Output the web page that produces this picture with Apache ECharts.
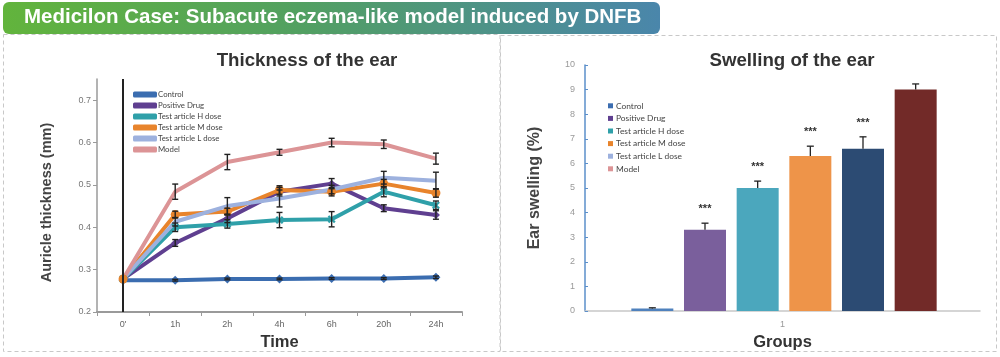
<!DOCTYPE html>
<html>
<head>
<meta charset="utf-8">
<script src="https://cdn.jsdelivr.net/npm/echarts@6/dist/echarts.min.js"></script>
<style>
html,body{margin:0;padding:0;background:#fff;}
#c{width:1000px;height:357px;}
</style>
</head>
<body>
<div id="c"></div>
<script>
// ---- Left chart data: Thickness of the ear ----
const timeLabels = ["0'", "1h", "2h", "4h", "6h", "20h", "24h"];
const lineNames = ["Control", "Positive Drug", "Test article H dose", "Test article M dose", "Test article L dose", "Model"];
const controlVals  = [0.275, 0.275, 0.278, 0.278, 0.279, 0.279, 0.282];
const positiveVals = [0.278, 0.363, 0.421, 0.484, 0.503, 0.445, 0.429];
const hDoseVals    = [0.278, 0.400, 0.408, 0.417, 0.419, 0.484, 0.452];
const mDoseVals    = [0.278, 0.430, 0.437, 0.488, 0.484, 0.503, 0.481];
const lDoseVals    = [0.278, 0.413, 0.450, 0.468, 0.489, 0.517, 0.510];
const modelVals    = [0.278, 0.484, 0.554, 0.577, 0.600, 0.596, 0.562];
const controlErr   = [0, 0.002, 0.002, 0.002, 0.002, 0.002, 0.003];
const positiveErr  = [0, 0.008, 0.010, 0.010, 0.012, 0.008, 0.010];
const hDoseErr     = [0, 0.010, 0.010, 0.018, 0.018, 0.012, 0.010];
const mDoseErr     = [0, 0.008, 0.008, 0.010, 0.010, 0.010, 0.010];
const lDoseErr     = [0, 0.010, 0.020, 0.020, 0.010, 0.015, 0.020];
const modelErr     = [0, 0.018, 0.018, 0.007, 0.010, 0.010, 0.013];
const thickTicks = [0.2, 0.3, 0.4, 0.5, 0.6, 0.7];

// ---- Right chart data: Swelling of the ear ----
const groupLabel = ["1"];
const barNames = ["Control", "Positive Drug", "Test article H dose", "Test article M dose", "Test article L dose", "Model"];
const swellVals = [0.1, 3.3, 5.0, 6.3, 6.6, 9.0];
const swellErr  = [0.03, 0.27, 0.28, 0.40, 0.48, 0.23];
const swellSig  = ["", "***", "***", "***", "***", ""];
const swellTicks = [0, 1, 2, 3, 4, 5, 6, 7, 8, 9, 10];

const lineColors = ['#3b6db0', '#5f3f90', '#2fa0a9', '#e8842c', '#9db1de', '#dc9496'];
const lineSymbols = ['diamond', 'diamond',
  'path://M2,0L5,3L8,0L10,2L7,5L10,8L8,10L5,7L2,10L0,8L3,5L0,2Z', 'circle', 'none', 'none'];
const lineSymbolSizes = [9, 8, 8, 9, 0, 0];
const barColors = ['#4f81bd', '#7a5f9c', '#4ba7bd', '#ee9449', '#2c4b73', '#722a28'];

const FONT = "'Liberation Sans', Arial, sans-serif";
const LEG_FONT = "Lato, 'Liberation Sans', sans-serif";

const lineVals = [controlVals, positiveVals, hDoseVals, mDoseVals, lDoseVals, modelVals];
const lineErrs = [controlErr, positiveErr, hDoseErr, mDoseErr, lDoseErr, modelErr];

function errSym(params, api) {
  const x = api.value(0), v = api.value(1), e = api.value(2);
  if (!e) return null;
  const hi = api.coord([x, v + e]), lo = api.coord([x, v - e]);
  const w = 3, st = { stroke: '#222', lineWidth: 1.4 };
  return { type: 'group', children: [
    { type: 'line', shape: { x1: hi[0], y1: hi[1], x2: lo[0], y2: lo[1] }, style: st },
    { type: 'line', shape: { x1: hi[0] - w, y1: hi[1], x2: hi[0] + w, y2: hi[1] }, style: st },
    { type: 'line', shape: { x1: lo[0] - w, y1: lo[1], x2: lo[0] + w, y2: lo[1] }, style: st }
  ]};
}
function errUp(params, api) {
  const x = api.value(0), v = api.value(1), e = api.value(2);
  const top = api.coord([x, v + e]), base = api.coord([x, v]);
  const w = 3.5, st = { stroke: '#222', lineWidth: 1.3 };
  const sig = swellSig[params.dataIndex];
  const ch = [
    { type: 'line', shape: { x1: top[0], y1: top[1], x2: base[0], y2: base[1] }, style: st },
    { type: 'line', shape: { x1: top[0] - w, y1: top[1], x2: top[0] + w, y2: top[1] }, style: st }
  ];
  if (sig) ch.push({ type: 'text', x: top[0], y: top[1] - 14,
    style: { text: sig, fill: '#333', font: 'bold 11px ' + FONT, align: 'center', verticalAlign: 'middle' } });
  return { type: 'group', children: ch };
}

const series = [];
lineNames.forEach((n, i) => {
  const s = {
    name: n, type: 'line', xAxisIndex: 0, yAxisIndex: 0,
    data: lineVals[i], symbol: lineSymbols[i], symbolSize: lineSymbolSizes[i],
    showSymbol: lineSymbols[i] !== 'none',
    lineStyle: { color: lineColors[i], width: 4 },
    itemStyle: { color: lineColors[i] },
    z: 3
  };
  if (i === 0) {
    s.markLine = { silent: true, symbol: 'none', label: { show: false },
      lineStyle: { color: '#222', width: 2, type: 'solid' },
      data: [{ xAxis: timeLabels[0] }] };
  }
  series.push(s);
});
lineNames.forEach((n, i) => {
  series.push({
    type: 'custom', xAxisIndex: 0, yAxisIndex: 0, z: 6, silent: true,
    renderItem: errSym,
    data: lineVals[i].map((v, k) => [k, v, lineErrs[i][k]])
  });
});
barNames.forEach((n, i) => {
  series.push({
    name: n, type: 'bar', xAxisIndex: 2, yAxisIndex: 2,
    data: swellVals.map((v, k) => (k === i ? v : null)),
    barWidth: 42, barGap: '-100%',
    itemStyle: { color: barColors[i] }
  });
});
series.push({
  type: 'custom', xAxisIndex: 2, yAxisIndex: 2, z: 6, silent: true,
  renderItem: errUp,
  data: swellVals.map((v, k) => [k, v, swellErr[k]])
});

const option = {
  animation: false,
  textStyle: { fontFamily: FONT },
  graphic: [
    { type: 'rect', z: 0, shape: { x: 3.5, y: 34.5, width: 496.5, height: 317 },
      style: { fill: 'none', stroke: '#c8c8c8', lineWidth: 1, lineDash: [4, 3] } },
    { type: 'rect', z: 0, shape: { x: 500.5, y: 35.5, width: 496, height: 316 },
      style: { fill: 'none', stroke: '#c8c8c8', lineWidth: 1, lineDash: [4, 3] } },
    { type: 'rect', z: 10, shape: { x: 3, y: 2, width: 657, height: 32, r: 6 },
      style: { fill: new echarts.graphic.LinearGradient(0, 0, 1, 0, [
        { offset: 0, color: '#62b43c' }, { offset: 0.45, color: '#52a061' }, { offset: 1, color: '#4a86ab' }]) } },
    { type: 'text', z: 11, x: 24, y: 17,
      style: { text: 'Medicilon Case: Subacute eczema-like model induced by DNFB', fill: '#fff',
        font: 'bold 20.5px ' + FONT, verticalAlign: 'middle' } }
  ],
  title: [
    { text: 'Thickness of the ear', left: 302, top: 46, textAlign: 'center',
      textStyle: { fontFamily: FONT, fontSize: 18.7, fontWeight: 'bold', color: '#333' } },
    { text: 'Swelling of the ear', left: 787, top: 46, textAlign: 'center',
      textStyle: { fontFamily: FONT, fontSize: 18.7, fontWeight: 'bold', color: '#333' } }
  ],
  legend: [
    { data: lineNames, orient: 'vertical', left: 133, top: 90, padding: 0, itemWidth: 24, itemHeight: 6,
      itemGap: 2, icon: 'roundRect',
      textStyle: { fontFamily: LEG_FONT, fontSize: 7.8, color: '#444', lineHeight: 9, padding: [0, 0, 0, -4] } },
    { data: barNames, orient: 'vertical', left: 608, top: 101, padding: 0, itemWidth: 5, itemHeight: 5,
      itemGap: 3, icon: 'rect',
      textStyle: { fontFamily: LEG_FONT, fontSize: 8.4, color: '#444', lineHeight: 9.6, padding: [0, 0, 0, -2] } }
  ],
  grid: [
    { left: 97, right: 538, top: 79, bottom: 45 },
    { left: 585, right: 20, top: 65, bottom: 46 },
    { left: 626, right: 58, top: 65, bottom: 46 }
  ],
  xAxis: [
    { type: 'category', gridIndex: 0, data: timeLabels, boundaryGap: true,
      name: 'Time', nameLocation: 'middle', nameGap: 22,
      nameTextStyle: { fontFamily: FONT, fontSize: 16.5, fontWeight: 'bold', color: '#333' },
      axisLine: { lineStyle: { color: '#9a9a9a', width: 2 } },
      axisTick: { show: true, length: 4, lineStyle: { color: '#9a9a9a' } },
      axisLabel: { fontSize: 9, color: '#666', margin: 8 } },
    { type: 'category', gridIndex: 1, data: groupLabel,
      name: 'Groups', nameLocation: 'middle', nameGap: 23,
      nameTextStyle: { fontFamily: FONT, fontSize: 16.5, fontWeight: 'bold', color: '#333' },
      axisLine: { lineStyle: { color: '#c8c8c8', width: 1.5 } },
      axisTick: { show: false },
      axisLabel: { fontSize: 9, color: '#999', margin: 9 } },
    { type: 'category', gridIndex: 2, data: barNames, show: false }
  ],
  yAxis: [
    { type: 'value', gridIndex: 0, min: 0.2, max: 0.75, interval: 0.1,
      name: 'Auricle thickness (mm)', nameLocation: 'middle', nameGap: 43,
      nameTextStyle: { fontFamily: FONT, fontSize: 14.5, fontWeight: 'bold', color: '#444', padding: [0, 14, 0, 0] },
      axisLine: { show: true, lineStyle: { color: '#9a9a9a', width: 1.5 } },
      axisTick: { show: true, length: 4, customValues: thickTicks, lineStyle: { color: '#9a9a9a' } },
      axisLabel: { fontSize: 9, color: '#777', margin: 6, customValues: thickTicks,
        formatter: v => v.toFixed(1) },
      splitLine: { show: false } },
    { type: 'value', gridIndex: 1, min: 0, max: 10, interval: 1,
      name: 'Ear swelling (%)', nameLocation: 'middle', nameGap: 42,
      nameTextStyle: { fontFamily: FONT, fontSize: 16, fontWeight: 'bold', color: '#444' },
      axisLine: { show: true, lineStyle: { color: '#5b8fca', width: 1.5 } },
      axisTick: { show: true, inside: true, length: 3, lineStyle: { color: '#5b8fca' } },
      axisLabel: { fontSize: 9, color: '#999', margin: 10, customValues: swellTicks },
      splitLine: { show: false } },
    { type: 'value', gridIndex: 2, min: 0, max: 10, show: false, splitLine: { show: false } }
  ],
  series: series
};

const chart = echarts.init(document.getElementById('c'), null, { renderer: 'canvas' });
chart.setOption(option);
</script>
</body>
</html>
